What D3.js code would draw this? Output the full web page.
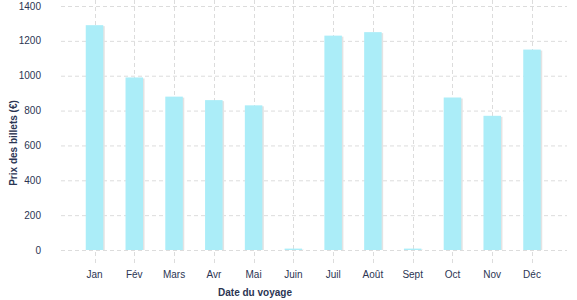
<!DOCTYPE html>
<html>
<head>
<meta charset="utf-8">
<script src="https://cdn.jsdelivr.net/npm/d3@7"></script>
<style>
  body { margin: 0; background: #fff; }
  text { font-family: "Liberation Sans", Arial, sans-serif; fill: #2b3553; }
</style>
</head>
<body>
<div id="chart"></div>
<script>
var months = ['Jan', 'Fév', 'Mars', 'Avr', 'Mai', 'Juin', 'Juil', 'Août', 'Sept', 'Oct', 'Nov', 'Déc'];
var prices = [1290, 990, 880, 860, 830, 8, 1230, 1250, 8, 875, 770, 1150];
var yTicks = [0, 200, 400, 600, 800, 1000, 1200, 1400];

var width = 577, height = 300;
var svg = d3.select('#chart').append('svg')
  .attr('width', width)
  .attr('height', height);

var x = d3.scalePoint().domain(months).range([94.5, 532]);
var y = d3.scaleLinear().domain([0, 1400]).range([250, 6]);
var barW = 17.5;

// horizontal grid
svg.append('g')
  .selectAll('line')
  .data(yTicks)
  .enter().append('line')
  .attr('x1', 61).attr('x2', 567)
  .attr('y1', function (d) { return y(d) + 0.5; })
  .attr('y2', function (d) { return y(d) + 0.5; })
  .attr('stroke', '#dcdcdc')
  .attr('stroke-dasharray', '4,3');

// vertical grid
svg.append('g')
  .selectAll('line')
  .data(months)
  .enter().append('line')
  .attr('x1', function (d) { return Math.round(x(d)) + 0.5; })
  .attr('x2', function (d) { return Math.round(x(d)) + 0.5; })
  .attr('y1', 0).attr('y2', 265)
  .attr('stroke', '#dcdcdc')
  .attr('stroke-dasharray', '4,3');

// bar shadows
svg.append('g')
  .selectAll('rect')
  .data(prices)
  .enter().append('rect')
  .attr('x', function (d, i) { return x(months[i]) - barW / 2 + 1.5; })
  .attr('y', function (d) { return y(d) + 1; })
  .attr('width', barW)
  .attr('height', function (d) { return 250 - y(d) - 1; })
  .attr('fill', '#e3e3e3');

// bars
svg.append('g')
  .selectAll('rect')
  .data(prices)
  .enter().append('rect')
  .attr('x', function (d, i) { return x(months[i]) - barW / 2; })
  .attr('y', function (d) { return y(d); })
  .attr('width', barW)
  .attr('height', function (d) { return 250 - y(d); })
  .attr('fill', '#abedf8');

// y tick labels
svg.append('g')
  .selectAll('text')
  .data(yTicks)
  .enter().append('text')
  .attr('x', 41)
  .attr('y', function (d) { return y(d) + 3.5; })
  .attr('text-anchor', 'end')
  .style('font-size', '10px')
  .text(function (d) { return d; });

// x tick labels
svg.append('g')
  .selectAll('text')
  .data(months)
  .enter().append('text')
  .attr('x', function (d) { return x(d); })
  .attr('y', 278)
  .attr('text-anchor', 'middle')
  .style('font-size', '10px')
  .text(function (d) { return d; });

// axis titles
svg.append('text')
  .attr('x', 255)
  .attr('y', 296)
  .attr('text-anchor', 'middle')
  .style('font-size', '10px')
  .style('font-weight', 'bold')
  .text('Date du voyage');

svg.append('text')
  .attr('transform', 'translate(17,143) rotate(-90)')
  .attr('text-anchor', 'middle')
  .style('font-size', '10px')
  .style('font-weight', 'bold')
  .text('Prix des billets (€)');
</script>
</body>
</html>
